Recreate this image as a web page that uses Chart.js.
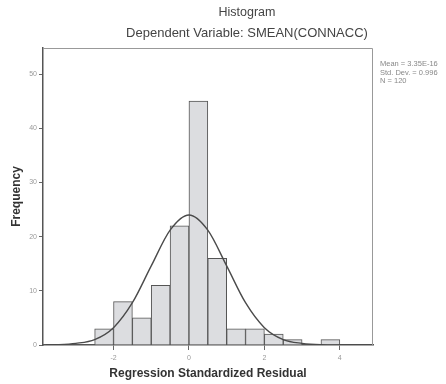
<!DOCTYPE html>
<html>
<head>
<meta charset="utf-8">
<script src="https://cdn.jsdelivr.net/npm/chart.js@4/dist/chart.umd.min.js"></script>
<style>
  html, body { margin: 0; padding: 0; background: #fff; }
  #wrap { position: relative; width: 446px; height: 384px; overflow: hidden; font-family: "Liberation Sans", Arial, sans-serif; }
  canvas { position: absolute; left: 0; top: 0; }
  .t { position: absolute; color: #444; white-space: nowrap; }
  #title { left: 0; width: 494px; top: 5px; text-align: center; font-size: 12.5px; }
  #subtitle { left: 0; width: 494px; top: 25px; text-align: center; font-size: 13px; }
  #stats { left: 380px; top: 60px; font-size: 7.5px; line-height: 8.5px; color: #888; }
</style>
</head>
<body>
<div id="wrap">
  <canvas id="c" width="446" height="384"></canvas>
  <div class="t" id="title">Histogram</div>
  <div class="t" id="subtitle">Dependent Variable: SMEAN(CONNACC)</div>
  <div class="t" id="stats">Mean = 3.35E-16<br>Std. Dev. = 0.996<br>N = 120</div>
</div>
<script>
// Histogram bins (centers of 0.5-wide bins) and frequencies
const binCenters = [-2.25, -1.75, -1.25, -0.75, -0.25, 0.25, 0.75, 1.25, 1.75, 2.25, 2.75, 3.25, 3.75];
const frequencies = [3, 8, 5, 11, 22, 45, 16, 3, 3, 2, 1, 0, 1];

// Normal curve
const curveX = [-3.8, -3.5, -3, -2.5, -2, -1.5, -1, -0.5, 0, 0.5, 1, 1.5, 2, 2.5, 3, 3.5, 4, 4.5, 4.85];
const curveY = [0.01, 0.05, 0.3, 1.0, 3.2, 7.8, 14.6, 21.2, 24, 21.2, 14.6, 7.8, 3.2, 1.0, 0.3, 0.05, 0.01, 0, 0];

const xTicks = [-2, 0, 2, 4];
const yTicks = [0, 10, 20, 30, 40, 50];

const xTitle = 'Regression Standardized Residual';
const yTitle = 'Frequency';

const barData = binCenters.map((x, i) => ({ x: x, y: frequencies[i] }));
const lineData = curveX.map((x, i) => ({ x: x, y: curveY[i] }));

const framePlugin = {
  id: 'frame',
  afterDraw(chart) {
    const a = chart.chartArea, ctx = chart.ctx;
    ctx.save();
    ctx.strokeStyle = '#999';
    ctx.lineWidth = 1;
    ctx.beginPath();
    ctx.moveTo(a.left, a.top + 0.5);
    ctx.lineTo(a.right - 0.5, a.top + 0.5);
    ctx.lineTo(a.right - 0.5, a.bottom);
    ctx.stroke();
    ctx.restore();
  }
};

new Chart(document.getElementById('c'), {
  type: 'bar',
  data: {
    datasets: [
      {
        type: 'line',
        data: lineData,
        borderColor: '#4a4a4a',
        borderWidth: 1.4,
        pointRadius: 0,
        fill: false,
        cubicInterpolationMode: 'monotone',
        order: 0
      },
      {
        type: 'bar',
        data: barData,
        backgroundColor: '#dcdde0',
        borderColor: '#555',
        borderWidth: 1,
        barPercentage: 1,
        categoryPercentage: 1,
        order: 1
      }
    ]
  },
  options: {
    responsive: false,
    animation: false,
    devicePixelRatio: 1,
    layout: { padding: { top: 48, right: 73, left: 0, bottom: 0 } },
    plugins: { legend: { display: false }, tooltip: { enabled: false } },
    scales: {
      x: {
        type: 'linear',
        min: -3.87,
        max: 4.88,
        offset: false,
        afterBuildTicks(scale) { scale.ticks = xTicks.map(v => ({ value: v })); },
        afterFit(scale) { scale.height = 39; },
        grid: { drawOnChartArea: false, drawTicks: true, tickLength: 5, color: '#666', offset: false },
        border: { display: true, color: '#555', width: 1.5 },
        ticks: { font: { size: 7, family: 'Liberation Sans' }, color: '#999', padding: 4, maxRotation: 0 },
        title: { display: true, text: xTitle, font: { size: 12, weight: 'bold', family: 'Liberation Sans' }, color: '#333', padding: { top: 4, bottom: 3 } }
      },
      y: {
        min: 0,
        max: 54.8,
        afterBuildTicks(scale) { scale.ticks = yTicks.map(v => ({ value: v })); },
        afterFit(scale) { scale.width = 43; },
        grid: { drawOnChartArea: false, drawTicks: true, tickLength: 4, color: '#666' },
        border: { display: true, color: '#555', width: 1.5 },
        ticks: { font: { size: 7, family: 'Liberation Sans' }, color: '#999', padding: 2 },
        title: { display: true, text: yTitle, font: { size: 12, weight: 'bold', family: 'Liberation Sans' }, color: '#333', padding: { top: 9, bottom: 4 } }
      }
    }
  },
  plugins: [framePlugin]
});
</script>
</body>
</html>
